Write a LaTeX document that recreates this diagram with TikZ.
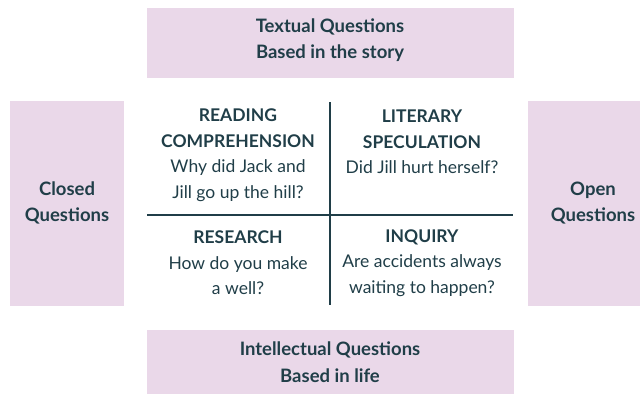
\documentclass[tikz,border=0pt]{standalone}
\usepackage{fontspec}
\setmainfont{Lato}
\definecolor{boxpink}{RGB}{234,216,233}
\definecolor{inkteal}{RGB}{32,62,72}
\tikzset{
  band/.style={fill=boxpink, draw=none},
  lbl/.style={text=inkteal, align=center, inner sep=0pt,
    font=\fontsize{17.5}{25.5}\selectfont},
  bandlbl/.style={lbl, font=\fontsize{18.5}{26.5}\selectfont\bfseries},
  axis/.style={draw=inkteal, line width=2pt}
}

\begin{document}
\begin{tikzpicture}[x=1pt, y=-1pt]
    \useasboundingbox (0,0) rectangle (640,394);
    % the four question bands
    \fill[band] (147,8) rectangle (514,78);
    \fill[band] (10,101) rectangle (124,306);
    \fill[band] (528,101) rectangle (640,306);
    \fill[band] (147,330) rectangle (514,394);

    \node[bandlbl] (textual) at (330,40) {Textual Questions\\Based in the story};
    \node[bandlbl] (closed) at (67,203) {Closed\\Questions};
    \node[bandlbl] (open) at (593,203) {Open\\Questions};
    \node[bandlbl] (intel) at (330,362) {Intellectual Questions\\Based in life};

    % quadrants
    \node[lbl] (reading) at (238,155) {\textbf{READING}\\\textbf{COMPREHENSION}\\Why did Jack and\\Jill go up the hill?};
    \node[lbl] (literary) at (422,142) {\textbf{LITERARY}\\\textbf{SPECULATION}\\Did Jill hurt herself?};
    \node[lbl] (research) at (238,263) {\textbf{RESEARCH}\\How do you make\\a well?};
    \node[lbl] (inquiry) at (422,263) {\textbf{INQUIRY}\\Are accidents always\\waiting to happen?};

    \coordinate (north) at (330,102);
    \coordinate (south) at (330,305);
    \coordinate (west) at (147,215);
    \coordinate (east) at (513,215);
    \draw[axis] (north) -- (south);
    \draw[axis] (west) -- (east);
\end{tikzpicture}
\end{document}
